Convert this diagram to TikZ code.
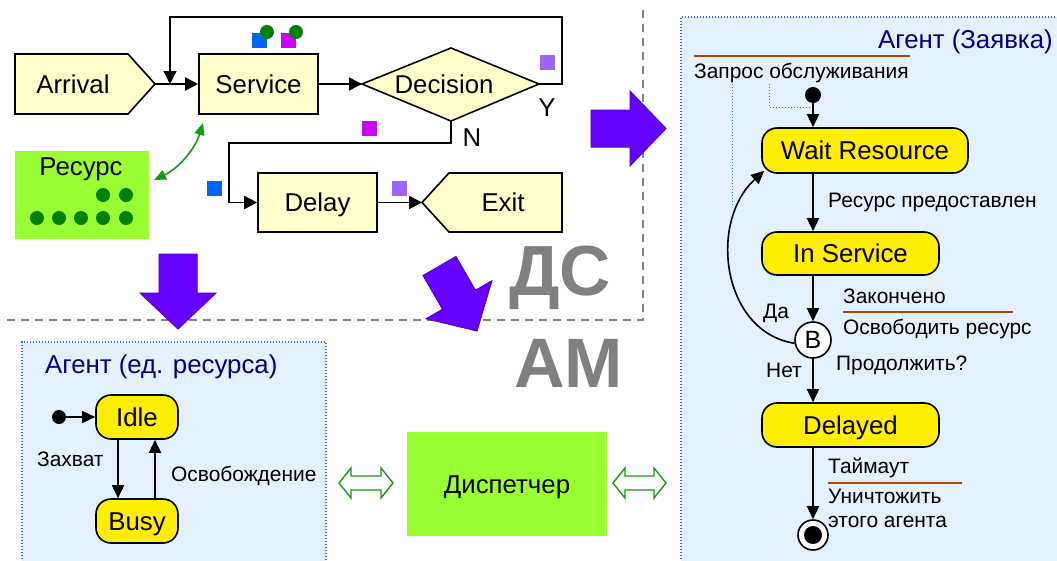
\documentclass[tikz,border=0pt]{standalone}
\usepackage{fontspec}
\setmainfont{Liberation Sans}
\usetikzlibrary{arrows.meta}
\definecolor{boxfill}{HTML}{FFFFCC}
\definecolor{stfill}{HTML}{FFEE00}
\definecolor{resgreen}{HTML}{99FF33}
\definecolor{dotgreen}{HTML}{008000}
\definecolor{agfill}{HTML}{E3F1FD}
\definecolor{agborder}{HTML}{3366FF}
\definecolor{navytxt}{HTML}{000080}
\definecolor{brownline}{HTML}{B0440F}
\definecolor{purp}{HTML}{6600FF}
\definecolor{purpedge}{HTML}{5500CC}
\definecolor{mblue}{HTML}{0066FF}
\definecolor{mmag}{HTML}{CC00FF}
\definecolor{mlav}{HTML}{9966FF}
\definecolor{dgreen}{HTML}{129A12}
\definecolor{greytxt}{HTML}{808080}
\begin{document}
\begin{tikzpicture}[x=1pt,y=-1pt,
  bigtxt/.style={font=\fontsize{25.8}{30}\selectfont, text height=18.5pt, text depth=0pt, inner sep=0pt},
  smalltxt/.style={font=\fontsize{20.9}{24}\selectfont},
  shapeline/.style={draw=black, line width=1.6pt, fill=boxfill},
  blockbox/.style={shapeline, bigtxt},
  flow/.style={line width=1.6pt, -{Triangle[length=13pt,width=13pt]}},
  stnode/.style={draw=black, line width=1.6pt, fill=stfill, rounded corners=15pt, bigtxt},
  trans/.style={line width=1.6pt, -{Triangle[length=13pt,width=12pt]}},
  lbl/.style={smalltxt, anchor=base west, inner sep=0pt},
  mk/.style={minimum size=15pt, inner sep=0pt},
  gdot/.style={circle, fill=dotgreen, minimum size=14pt, inner sep=0pt},
  purparrow/.style={fill=purp, draw=purpedge, line width=1pt},
  dblarrow/.style={draw=dgreen, fill=white, line width=1.4pt},
  agentfill/.style={fill=agfill},
  agedge/.style={draw=agborder, line width=1.3pt, dash pattern=on 1.3pt off 1.7pt},
  sepline/.style={draw=greytxt, line width=1.6pt, dash pattern=on 8pt off 6pt},
  brownrule/.style={draw=brownline, line width=1.6pt},
]
\useasboundingbox (0,0) rectangle (1057,560);

% agent backgrounds
\fill[agentfill] (22,342) rectangle (326,565);
\draw[agedge] (22,565) -- (22,342) -- (326,342) -- (326,565);
\fill[agentfill] (681,17) rectangle (1062,565);
\draw[agedge] (681,565) -- (681,17) -- (1062,17);

% separators
\draw[sepline] (7,320) -- (643,320) -- (643,10);

% ---------- discrete-event flowchart ----------
\draw[shapeline] (15,54) -- (128,54) -- (155,84) -- (128,114) -- (15,114) -- cycle;
\node[bigtxt] (arrival) at (73,84) {Arrival};
\coordinate (arrtip) at (155,84);
\node[blockbox, minimum width=119pt, minimum height=60pt] (service) at (258.5,84) {Service};
\draw[flow] (arrtip) -- (service.west);

\draw[shapeline] (362,84) -- (451,48) -- (539,84) -- (451,121) -- cycle;
\node[bigtxt] (decision) at (444,84) {Decision};
\coordinate (decL) at (362,84);
\coordinate (decR) at (539,84);
\coordinate (decB) at (451,121);
\coordinate (loopend) at (170,84);
\draw[flow] (service.east) -- (decL);
\draw[flow] (decR) -- (562,84) -- (562,17) -- (170,17) -- (loopend);

\node[blockbox, minimum width=119pt, minimum height=59pt] (delay) at (317.5,202.5) {Delay};
\draw[flow] (decB) -- (451,143) -- (229,143) -- (229,202.5) -- (delay.west);

\draw[shapeline] (422,202.5) -- (449,173) -- (562,173) -- (562,232) -- (449,232) -- cycle;
\node[bigtxt] (exit) at (503,202.5) {Exit};
\coordinate (exittip) at (422,202.5);
\draw[flow] (delay.east) -- (exittip);

\node[bigtxt] (ylbl) at (547,107) {Y};
\node[bigtxt] (nlbl) at (472,137) {N};

% markers
\node[mk, fill=mblue] (m1) at (259.5,40.5) {};
\node[gdot] (g1) at (267,32) {};
\node[mk, fill=mmag] (m2) at (288.5,40.5) {};
\node[gdot] (g2) at (296,32) {};
\node[mk, fill=mlav] (m3) at (547.5,62.5) {};
\node[mk, fill=mmag] (m4) at (369.5,128.5) {};
\node[mk, fill=mblue] (m5) at (214.5,188.5) {};
\node[mk, fill=mlav] (m6) at (399.5,188.5) {};

% resource
\node[fill=resgreen, minimum width=134pt, minimum height=88pt, inner sep=0pt] (resource) at (82,195) {};
\node[bigtxt] (reslbl) at (81,166) {Ресурс};
\node[gdot] (r1) at (103,195) {};
\node[gdot] (r2) at (126,195) {};
\node[gdot] (r3) at (37,218) {};
\node[gdot] (r4) at (59,218) {};
\node[gdot] (r5) at (81,218) {};
\node[gdot] (r6) at (103,218) {};
\node[gdot] (r7) at (126,218) {};
\coordinate (gA) at (203,123);
\coordinate (gB) at (154,180);
\draw[dgreen, line width=1.6pt, {Triangle[length=12pt,width=10pt]}-{Triangle[length=12pt,width=10pt]}]
  (gA) .. controls (195,149) and (179,168) .. (gB);

% purple arrows
\draw[purparrow] (591,110) -- (630,110) -- (630,91) -- (666,128.5) -- (630,166) -- (630,147) -- (591,147) -- cycle;
\draw[purparrow] (159,254) -- (197,254) -- (197,293) -- (216,293) -- (178,329) -- (140,293) -- (159,293) -- cycle;
\begin{scope}[shift={(439.5,266)}, rotate=-60]
\draw[purparrow] (0,-19) -- (39,-19) -- (39,-38) -- (75,0) -- (39,38) -- (39,19) -- (0,19) -- cycle;
\end{scope}

% big labels
\node[font=\fontsize{71}{84}\selectfont\bfseries, text=greytxt, anchor=base west, inner sep=0pt] (ds) at (509,295) {ДС};
\node[font=\fontsize{70}{84}\selectfont\bfseries, text=greytxt, anchor=base west, inner sep=0pt] (am) at (514,387) {АМ};

% dispatcher
\node[fill=resgreen, minimum width=200pt, minimum height=104pt, bigtxt] (disp) at (507,484) {Диспетчер};
\draw[dblarrow] (339,483) -- (351,468) -- (351,476) -- (381,476) -- (381,468) -- (393,483) -- (381,498) -- (381,490) -- (351,490) -- (351,498) -- cycle;
\draw[dblarrow] (613,483) -- (625,468) -- (625,476) -- (654,476) -- (654,468) -- (666,483) -- (654,498) -- (654,490) -- (625,490) -- (625,498) -- cycle;

% ---------- left agent ----------
\node[font=\fontsize{25.8}{30}\selectfont, text=navytxt, anchor=base west, inner sep=0pt] (agl) at (45,373) {Агент (ед. ресурса)};
\node[stnode, minimum width=82pt, minimum height=44pt] (idle) at (137,417) {Idle};
\node[stnode, minimum width=82pt, minimum height=44pt] (busy) at (137,521) {Busy};
\node[circle, fill=black, minimum size=14pt, inner sep=0pt] (init1) at (59,417) {};
\draw[trans] (init1) -- (idle.west);
\draw[trans] ([xshift=-19pt]idle.south) -- ([xshift=-19pt]busy.north);
\draw[trans] ([xshift=18pt]busy.north) -- ([xshift=18pt]idle.south);
\node[lbl] (capt) at (37,466) {Захват};
\node[lbl] (rel) at (171,481) {Освобождение};

% ---------- right agent ----------
\node[font=\fontsize{25.8}{30}\selectfont, text=navytxt, anchor=base east, inner sep=0pt] (agr) at (1053,48) {Агент (Заявка)};
\draw[brownrule] (694,56) -- (910,56);
\node[lbl] (req) at (694,78) {Запрос обслуживания};
\draw[agedge, line width=1pt] (732,84) -- (732,207);
\draw[agedge, line width=1pt] (769,84) -- (769,107) -- (813,107);
\node[circle, fill=black, minimum size=16pt, inner sep=0pt] (init2) at (813,95) {};
\node[stnode, minimum width=206pt, minimum height=45pt] (wait) at (865,150.5) {Wait Resource};
\node[stnode, minimum width=177pt, minimum height=43pt] (insvc) at (850.5,253.5) {In Service};
\node[circle, draw=black, fill=white, line width=1.6pt, minimum size=36pt, inner sep=0pt, font=\fontsize{25}{30}\selectfont] (bnode) at (813,340) {B};
\node[stnode, minimum width=177pt, minimum height=44pt] (delayed) at (850.5,425) {Delayed};
\node[circle, draw=black, fill=white, line width=1.6pt, minimum size=30pt, inner sep=0pt] (final) at (813,535) {};
\node[circle, fill=black, minimum size=18pt, inner sep=0pt] (finaldot) at (final.center) {};

\draw[trans] (init2) -- (init2 |- wait.north);
\draw[trans] (init2 |- wait.south) -- (init2 |- insvc.north);
\draw[trans] (init2 |- insvc.south) -- (bnode.north);
\draw[trans] (bnode.south) -- (init2 |- delayed.north);
\draw[trans] (init2 |- delayed.south) -- (final.north);
\draw[trans] (bnode.190) .. controls (722,332) and (708,222) .. ([shift={(3pt,3pt)}]wait.south west);

\node[lbl] (l1) at (828,207) {Ресурс предоставлен};
\node[lbl] (l2) at (843,303) {Закончено};
\draw[brownrule] (843,312) -- (1013,312);
\node[lbl] (l3) at (843,334) {Освободить ресурс};
\node[lbl] (l4) at (836,370) {Продолжить?};
\node[lbl] (l5) at (763,318) {Да};
\node[lbl] (l6) at (766,377) {Нет};
\node[lbl] (l7) at (828,473) {Таймаут};
\draw[brownrule] (828,483) -- (962,483);
\node[lbl] (l8) at (828,503) {Уничтожить};
\node[lbl] (l9) at (828,527) {этого агента};
\end{tikzpicture}
\end{document}
